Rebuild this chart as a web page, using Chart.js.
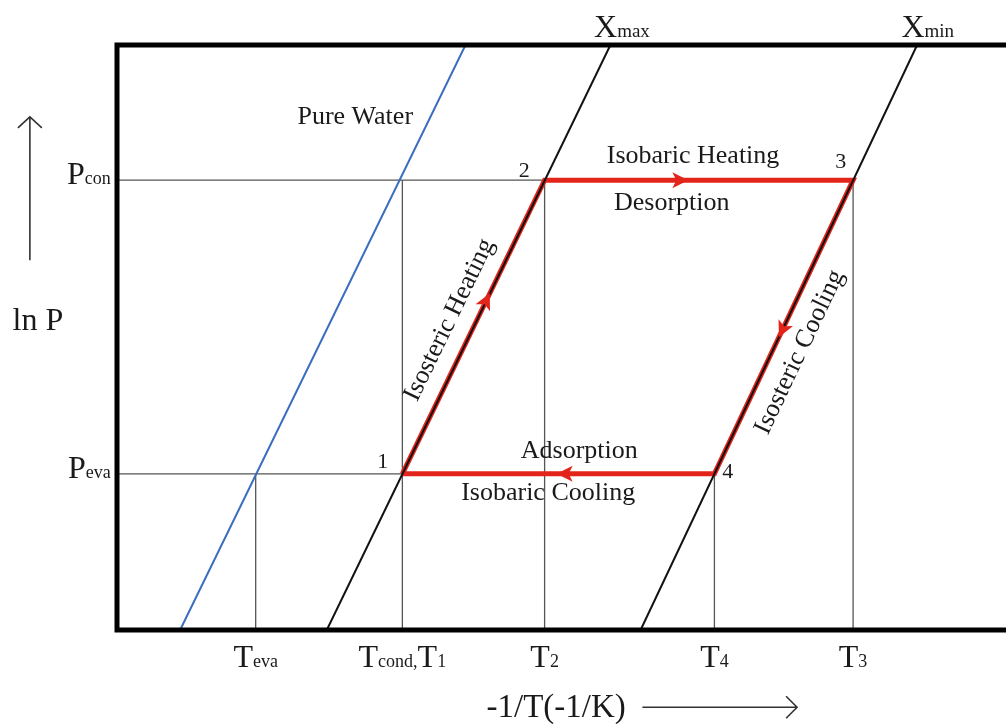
<!DOCTYPE html>
<html>
<head>
<meta charset="utf-8">
<script src="https://cdn.jsdelivr.net/npm/chart.js@4.4.0/dist/chart.umd.min.js"></script>
<style>
  html, body { margin: 0; padding: 0; background: #fff; }
  #wrap { width: 1006px; height: 724px; }
</style>
</head>
<body>
<div id="wrap"><canvas id="cycleChart"></canvas></div>
<script>
// -1/T of the marked temperatures (arbitrary units, 0..100 across the plot)
const tempTicks = [15.6, 32.1, 48.1, 67.2, 82.8];
const tempLabels = ['T{eva}', 'T{cond,}T{1}', 'T{2}', 'T{4}', 'T{3}'];
// ln P reached by each temperature drop line
const tempLineTops = [26.7, 76.9, 76.9, 26.7, 76.9];

// ln P of evaporator and condenser
const pressureTicks = [26.7, 76.9];
const pressureLabels = ['P{eva}', 'P{con}'];
const pressureLineEnds = [67.2, 82.8];

// cycle corners 1-2-3-4
const cycleNames = ['1', '2', '3', '4'];
const cycleX = [32.1, 48.1, 82.8, 67.2];
const cycleY = [26.7, 76.9, 76.9, 26.7];

// isosteres between ln P = 0 and ln P = 100
const isoY = [0, 100];
const waterX = [7.1, 39.2];
const xmaxX = [23.6, 55.5];
const xminX = [58.9, 90.0];

const SERIF = '"Liberation Serif", "DejaVu Serif", serif';
const INK = '#1a1a1a';
const RED = '#e3241b';

const pts = (xs, ys) => xs.map((x, i) => ({ x: x, y: ys[i] }));

const datasets = [
    { label: 'Pure Water', data: pts(waterX, isoY), borderColor: '#3a6cc0', borderWidth: 2 },
    { label: 'Xmax', data: pts(xmaxX, isoY), borderColor: '#111', borderWidth: 2 },
    { label: 'Xmin', data: pts(xminX, isoY), borderColor: '#111', borderWidth: 2 },
    {
        label: 'cycle',
        data: pts(cycleX.concat(cycleX[0]), cycleY.concat(cycleY[0])),
        borderColor: RED, borderWidth: 5
    }
];
tempTicks.forEach((t, i) => {
    datasets.push({ label: 'guide', data: [{ x: t, y: 0 }, { x: t, y: tempLineTops[i] }], borderColor: '#555', borderWidth: 1.3 });
});
pressureTicks.forEach((p, i) => {
    datasets.push({ label: 'guide', data: [{ x: 0, y: p }, { x: pressureLineEnds[i], y: p }], borderColor: '#555', borderWidth: 1.3 });
});
datasets.forEach(d => { d.showLine = true; d.pointRadius = 0; d.fill = false; d.tension = 0; });

// text with {subscript} parts
function richWidth(ctx, str, big, small) {
    let w = 0;
    str.replace(/([^{]+)|\{([^}]*)\}/g, (m, a, b) => {
        ctx.font = (a ? big : small) + 'px ' + SERIF;
        w += ctx.measureText(a || b).width;
    });
    return w;
}
function drawRich(ctx, str, x, y, big, small, align) {
    const w = richWidth(ctx, str, big, small);
    let cx = align === 'right' ? x - w : align === 'center' ? x - w / 2 : x;
    ctx.textAlign = 'left';
    ctx.textBaseline = 'alphabetic';
    str.replace(/([^{]+)|\{([^}]*)\}/g, (m, a, b) => {
        ctx.font = (a ? big : small) + 'px ' + SERIF;
        ctx.fillText(a || b, cx, y);
        cx += ctx.measureText(a || b).width;
    });
}

function arrowHead(ctx, x, y, ang, len, half) {
    ctx.save();
    ctx.translate(x, y);
    ctx.rotate(ang);
    ctx.beginPath();
    ctx.moveTo(len / 2, 0);
    ctx.lineTo(-len / 2, -half);
    ctx.lineTo(-len / 4, 0);
    ctx.lineTo(-len / 2, half);
    ctx.closePath();
    ctx.fill();
    ctx.restore();
}

const diagramDecor = {
    id: 'diagramDecor',
    afterDatasetsDraw(chart) {
        const ctx = chart.ctx;
        const sx = chart.scales.x, sy = chart.scales.y;
        const px = v => sx.getPixelForValue(v);
        const py = v => sy.getPixelForValue(v);
        const a = chart.chartArea;

        // direction arrows on the cycle
        const arrowAt = [0.59, 0.44, 0.51, 0.48];
        ctx.fillStyle = RED;
        for (let i = 0; i < 4; i++) {
            const j = (i + 1) % 4;
            const x0 = px(cycleX[i]), y0 = py(cycleY[i]);
            const x1 = px(cycleX[j]), y1 = py(cycleY[j]);
            const f = arrowAt[i];
            arrowHead(ctx, x0 + (x1 - x0) * f, y0 + (y1 - y0) * f, Math.atan2(y1 - y0, x1 - x0), 16, 8);
        }

        // frame: left, top and bottom edges
        ctx.save();
        ctx.strokeStyle = '#000';
        ctx.lineWidth = 5;
        ctx.lineCap = 'square';
        ctx.beginPath();
        ctx.moveTo(chart.width, a.top);
        ctx.lineTo(a.left, a.top);
        ctx.lineTo(a.left, a.bottom);
        ctx.lineTo(chart.width, a.bottom);
        ctx.stroke();
        ctx.restore();

        ctx.fillStyle = INK;

        // temperature and pressure labels
        tempTicks.forEach((t, i) => drawRich(ctx, tempLabels[i], px(t), py(-6.3), 32, 18, 'center'));
        pressureTicks.forEach((p, i) => drawRich(ctx, pressureLabels[i], px(-0.7), py(p) + 4, 32, 18, 'right'));
        drawRich(ctx, 'X{max}', px(56.8), py(101.4), 32, 19, 'center');
        drawRich(ctx, 'X{min}', px(91.2), py(101.4), 32, 19, 'center');

        // cycle corner numbers
        const numPos = [[29.9, 27.7], [45.8, 77.4], [81.4, 79.0], [68.7, 26.0]];
        ctx.font = '22px ' + SERIF;
        ctx.textAlign = 'center';
        ctx.textBaseline = 'alphabetic';
        cycleNames.forEach((n, i) => ctx.fillText(n, px(numPos[i][0]), py(numPos[i][1])));

        // process names
        const notes = [
            ['Pure Water', 26.8, 86.5],
            ['Isobaric Heating', 64.8, 79.8],
            ['Desorption', 62.4, 71.8],
            ['Adsorption', 52.0, 29.4],
            ['Isobaric Cooling', 48.5, 22.2]
        ];
        ctx.font = '26px ' + SERIF;
        notes.forEach(n => ctx.fillText(n[0], px(n[1]), py(n[2])));

        // labels along the isosteric legs
        const legAngle = Math.atan2(py(cycleY[1]) - py(cycleY[0]), px(cycleX[1]) - px(cycleX[0]));
        const legAngle2 = Math.atan2(py(cycleY[2]) - py(cycleY[3]), px(cycleX[2]) - px(cycleX[3]));
        [['Isosteric Heating', 37.4, 53.0, legAngle], ['Isosteric Cooling', 76.8, 47.5, legAngle2]].forEach(n => {
            ctx.save();
            ctx.translate(px(n[1]), py(n[2]));
            ctx.rotate(n[3]);
            ctx.textBaseline = 'middle';
            ctx.fillText(n[0], 0, 0);
            ctx.restore();
        });

        // axis titles with arrows
        ctx.font = '32px ' + SERIF;
        ctx.textBaseline = 'alphabetic';
        ctx.fillText('ln P', px(-8.9), py(51.3));
        ctx.font = '33px ' + SERIF;
        ctx.fillText('-1/T(-1/K)', px(49.4), py(-14.9));

        ctx.strokeStyle = '#333';
        ctx.lineWidth = 1.6;
        ctx.beginPath();
        const ax = px(-9.8), ay0 = py(63.2), ay1 = py(87.7);
        ctx.moveTo(ax, ay0); ctx.lineTo(ax, ay1);
        ctx.moveTo(ax - 12, ay1 + 11); ctx.lineTo(ax, ay1); ctx.lineTo(ax + 12, ay1 + 11);
        const bx0 = px(59.1), bx1 = px(76.5), by = py(-13.2);
        ctx.moveTo(bx0, by); ctx.lineTo(bx1, by);
        ctx.moveTo(bx1 - 11, by - 11); ctx.lineTo(bx1, by); ctx.lineTo(bx1 - 11, by + 11);
        ctx.stroke();
    }
};

new Chart(document.getElementById('cycleChart').getContext('2d'), {
    type: 'scatter',
    data: { datasets: datasets },
    options: {
        responsive: true,
        maintainAspectRatio: false,
        animation: false,
        layout: { padding: { left: 117, top: 45, right: 0, bottom: 94 } },
        plugins: {
            legend: { display: false },
            tooltip: { enabled: false }
        },
        scales: {
            x: { type: 'linear', min: 0, max: 100, display: false },
            y: { type: 'linear', min: 0, max: 100, display: false }
        }
    },
    plugins: [diagramDecor]
});
</script>
</body>
</html>
